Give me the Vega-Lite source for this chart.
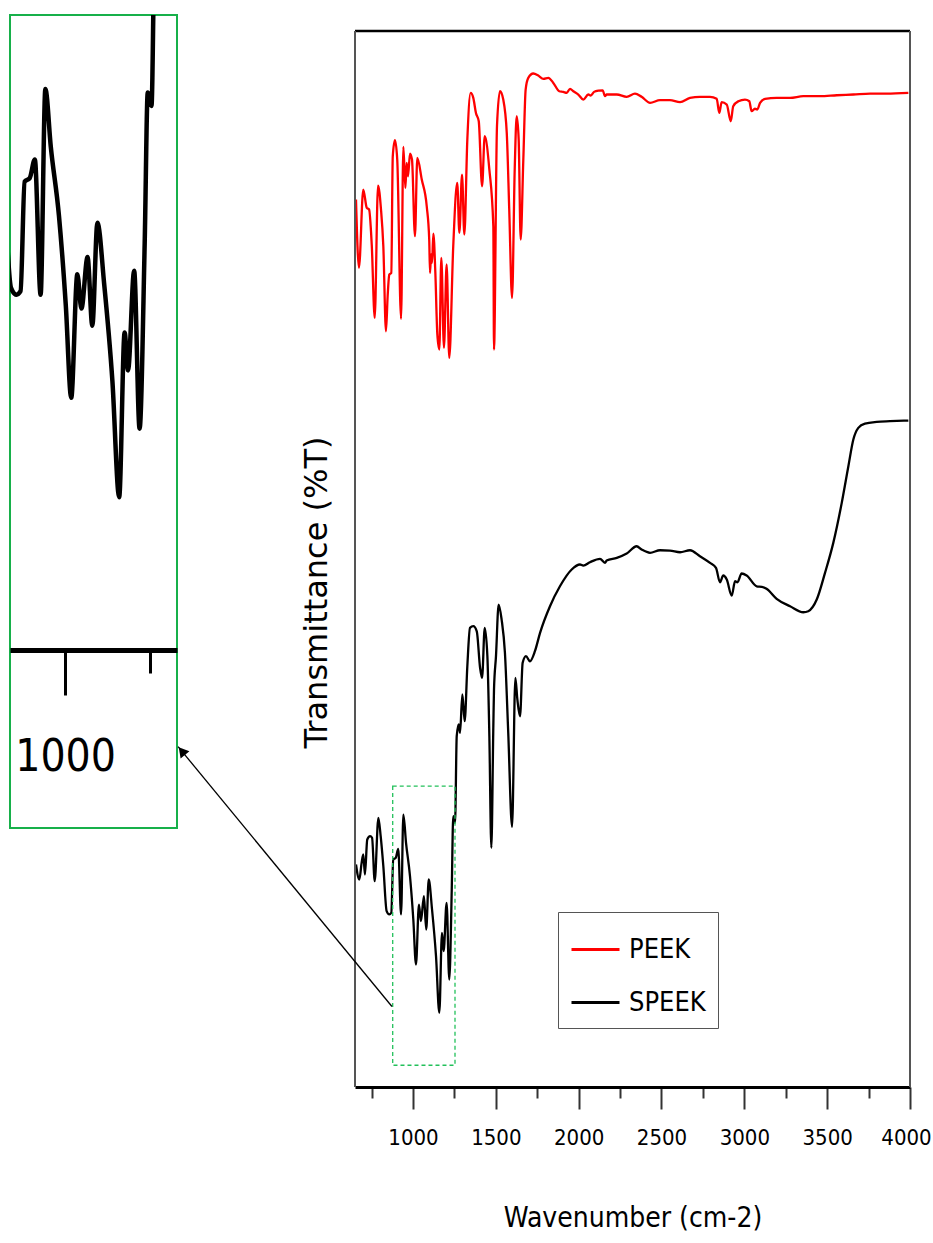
{
  "$schema": "https://vega.github.io/schema/vega-lite/v6.json",
  "background": "white",
  "padding": {"left": 9, "top": 14, "right": 0, "bottom": 0},
  "bounds": "full",
  "spacing": -1,
  "datasets": {
    "spectra": [
      {"sample":"PEEK","wavenumber":656,"transmittance":84.04},
      {"sample":"PEEK","wavenumber":674,"transmittance":77.58},
      {"sample":"PEEK","wavenumber":700,"transmittance":84.99},
      {"sample":"PEEK","wavenumber":721,"transmittance":83.26},
      {"sample":"PEEK","wavenumber":735,"transmittance":83.10},
      {"sample":"PEEK","wavenumber":751,"transmittance":79.78},
      {"sample":"PEEK","wavenumber":769,"transmittance":72.84},
      {"sample":"PEEK","wavenumber":789,"transmittance":85.37},
      {"sample":"PEEK","wavenumber":807,"transmittance":83.10},
      {"sample":"PEEK","wavenumber":821,"transmittance":79.62},
      {"sample":"PEEK","wavenumber":837,"transmittance":71.57},
      {"sample":"PEEK","wavenumber":847,"transmittance":74.89},
      {"sample":"PEEK","wavenumber":857,"transmittance":76.94},
      {"sample":"PEEK","wavenumber":869,"transmittance":77.10},
      {"sample":"PEEK","wavenumber":878,"transmittance":88.14},
      {"sample":"PEEK","wavenumber":891,"transmittance":89.66},
      {"sample":"PEEK","wavenumber":905,"transmittance":87.83},
      {"sample":"PEEK","wavenumber":928,"transmittance":72.75},
      {"sample":"PEEK","wavenumber":942,"transmittance":89.03},
      {"sample":"PEEK","wavenumber":954,"transmittance":85.15},
      {"sample":"PEEK","wavenumber":962,"transmittance":87.52},
      {"sample":"PEEK","wavenumber":970,"transmittance":86.25},
      {"sample":"PEEK","wavenumber":982,"transmittance":88.40},
      {"sample":"PEEK","wavenumber":994,"transmittance":87.83},
      {"sample":"PEEK","wavenumber":1012,"transmittance":80.57},
      {"sample":"PEEK","wavenumber":1026,"transmittance":87.99},
      {"sample":"PEEK","wavenumber":1053,"transmittance":85.94},
      {"sample":"PEEK","wavenumber":1083,"transmittance":83.41},
      {"sample":"PEEK","wavenumber":1098,"transmittance":80.26},
      {"sample":"PEEK","wavenumber":1103,"transmittance":77.10},
      {"sample":"PEEK","wavenumber":1109,"transmittance":78.84},
      {"sample":"PEEK","wavenumber":1115,"transmittance":78.05},
      {"sample":"PEEK","wavenumber":1123,"transmittance":80.82},
      {"sample":"PEEK","wavenumber":1135,"transmittance":77.10},
      {"sample":"PEEK","wavenumber":1147,"transmittance":71.26},
      {"sample":"PEEK","wavenumber":1159,"transmittance":69.84},
      {"sample":"PEEK","wavenumber":1171,"transmittance":78.52},
      {"sample":"PEEK","wavenumber":1187,"transmittance":70.00},
      {"sample":"PEEK","wavenumber":1203,"transmittance":77.89},
      {"sample":"PEEK","wavenumber":1219,"transmittance":69.05},
      {"sample":"PEEK","wavenumber":1243,"transmittance":79.62},
      {"sample":"PEEK","wavenumber":1267,"transmittance":85.62},
      {"sample":"PEEK","wavenumber":1280,"transmittance":80.89},
      {"sample":"PEEK","wavenumber":1296,"transmittance":86.41},
      {"sample":"PEEK","wavenumber":1310,"transmittance":80.73},
      {"sample":"PEEK","wavenumber":1328,"transmittance":89.72},
      {"sample":"PEEK","wavenumber":1348,"transmittance":94.15},
      {"sample":"PEEK","wavenumber":1364,"transmittance":93.67},
      {"sample":"PEEK","wavenumber":1380,"transmittance":92.25},
      {"sample":"PEEK","wavenumber":1397,"transmittance":91.46},
      {"sample":"PEEK","wavenumber":1417,"transmittance":85.30},
      {"sample":"PEEK","wavenumber":1433,"transmittance":90.04},
      {"sample":"PEEK","wavenumber":1461,"transmittance":86.88},
      {"sample":"PEEK","wavenumber":1485,"transmittance":81.52},
      {"sample":"PEEK","wavenumber":1489,"transmittance":69.84},
      {"sample":"PEEK","wavenumber":1507,"transmittance":90.98},
      {"sample":"PEEK","wavenumber":1525,"transmittance":94.30},
      {"sample":"PEEK","wavenumber":1545,"transmittance":93.51},
      {"sample":"PEEK","wavenumber":1566,"transmittance":90.36},
      {"sample":"PEEK","wavenumber":1581,"transmittance":83.10},
      {"sample":"PEEK","wavenumber":1598,"transmittance":74.73},
      {"sample":"PEEK","wavenumber":1614,"transmittance":86.88},
      {"sample":"PEEK","wavenumber":1626,"transmittance":91.93},
      {"sample":"PEEK","wavenumber":1638,"transmittance":89.72},
      {"sample":"PEEK","wavenumber":1650,"transmittance":80.26},
      {"sample":"PEEK","wavenumber":1666,"transmittance":87.83},
      {"sample":"PEEK","wavenumber":1680,"transmittance":94.46},
      {"sample":"PEEK","wavenumber":1696,"transmittance":95.57},
      {"sample":"PEEK","wavenumber":1726,"transmittance":95.98},
      {"sample":"PEEK","wavenumber":1756,"transmittance":95.79},
      {"sample":"PEEK","wavenumber":1787,"transmittance":95.47},
      {"sample":"PEEK","wavenumber":1817,"transmittance":95.57},
      {"sample":"PEEK","wavenumber":1847,"transmittance":95.09},
      {"sample":"PEEK","wavenumber":1883,"transmittance":94.30},
      {"sample":"PEEK","wavenumber":1907,"transmittance":94.24},
      {"sample":"PEEK","wavenumber":1928,"transmittance":94.15},
      {"sample":"PEEK","wavenumber":1948,"transmittance":94.53},
      {"sample":"PEEK","wavenumber":1968,"transmittance":94.30},
      {"sample":"PEEK","wavenumber":1998,"transmittance":93.99},
      {"sample":"PEEK","wavenumber":2028,"transmittance":93.51},
      {"sample":"PEEK","wavenumber":2058,"transmittance":93.99},
      {"sample":"PEEK","wavenumber":2073,"transmittance":93.89},
      {"sample":"PEEK","wavenumber":2093,"transmittance":94.24},
      {"sample":"PEEK","wavenumber":2119,"transmittance":94.36},
      {"sample":"PEEK","wavenumber":2145,"transmittance":94.39},
      {"sample":"PEEK","wavenumber":2159,"transmittance":93.83},
      {"sample":"PEEK","wavenumber":2169,"transmittance":93.99},
      {"sample":"PEEK","wavenumber":2230,"transmittance":93.99},
      {"sample":"PEEK","wavenumber":2290,"transmittance":93.77},
      {"sample":"PEEK","wavenumber":2340,"transmittance":94.08},
      {"sample":"PEEK","wavenumber":2380,"transmittance":93.77},
      {"sample":"PEEK","wavenumber":2431,"transmittance":93.20},
      {"sample":"PEEK","wavenumber":2491,"transmittance":93.45},
      {"sample":"PEEK","wavenumber":2551,"transmittance":93.45},
      {"sample":"PEEK","wavenumber":2612,"transmittance":93.26},
      {"sample":"PEEK","wavenumber":2672,"transmittance":93.67},
      {"sample":"PEEK","wavenumber":2732,"transmittance":93.77},
      {"sample":"PEEK","wavenumber":2793,"transmittance":93.77},
      {"sample":"PEEK","wavenumber":2833,"transmittance":93.58},
      {"sample":"PEEK","wavenumber":2849,"transmittance":92.25},
      {"sample":"PEEK","wavenumber":2863,"transmittance":93.26},
      {"sample":"PEEK","wavenumber":2894,"transmittance":93.04},
      {"sample":"PEEK","wavenumber":2918,"transmittance":91.46},
      {"sample":"PEEK","wavenumber":2933,"transmittance":92.88},
      {"sample":"PEEK","wavenumber":2964,"transmittance":93.35},
      {"sample":"PEEK","wavenumber":3004,"transmittance":93.51},
      {"sample":"PEEK","wavenumber":3030,"transmittance":93.35},
      {"sample":"PEEK","wavenumber":3044,"transmittance":92.41},
      {"sample":"PEEK","wavenumber":3064,"transmittance":92.64},
      {"sample":"PEEK","wavenumber":3078,"transmittance":92.57},
      {"sample":"PEEK","wavenumber":3095,"transmittance":93.20},
      {"sample":"PEEK","wavenumber":3125,"transmittance":93.58},
      {"sample":"PEEK","wavenumber":3195,"transmittance":93.67},
      {"sample":"PEEK","wavenumber":3276,"transmittance":93.67},
      {"sample":"PEEK","wavenumber":3356,"transmittance":93.83},
      {"sample":"PEEK","wavenumber":3457,"transmittance":93.83},
      {"sample":"PEEK","wavenumber":3558,"transmittance":93.92},
      {"sample":"PEEK","wavenumber":3658,"transmittance":93.99},
      {"sample":"PEEK","wavenumber":3759,"transmittance":94.08},
      {"sample":"PEEK","wavenumber":3859,"transmittance":94.08},
      {"sample":"PEEK","wavenumber":3990,"transmittance":94.15},
      {"sample":"SPEEK","wavenumber":656,"transmittance":21.07},
      {"sample":"SPEEK","wavenumber":676,"transmittance":19.65},
      {"sample":"SPEEK","wavenumber":690,"transmittance":21.23},
      {"sample":"SPEEK","wavenumber":700,"transmittance":22.02},
      {"sample":"SPEEK","wavenumber":710,"transmittance":20.12},
      {"sample":"SPEEK","wavenumber":724,"transmittance":23.44},
      {"sample":"SPEEK","wavenumber":741,"transmittance":23.75},
      {"sample":"SPEEK","wavenumber":753,"transmittance":23.60},
      {"sample":"SPEEK","wavenumber":769,"transmittance":19.49},
      {"sample":"SPEEK","wavenumber":791,"transmittance":25.49},
      {"sample":"SPEEK","wavenumber":805,"transmittance":23.75},
      {"sample":"SPEEK","wavenumber":821,"transmittance":20.91},
      {"sample":"SPEEK","wavenumber":841,"transmittance":16.65},
      {"sample":"SPEEK","wavenumber":857,"transmittance":16.34},
      {"sample":"SPEEK","wavenumber":869,"transmittance":16.50},
      {"sample":"SPEEK","wavenumber":881,"transmittance":21.54},
      {"sample":"SPEEK","wavenumber":896,"transmittance":21.70},
      {"sample":"SPEEK","wavenumber":911,"transmittance":22.56},
      {"sample":"SPEEK","wavenumber":928,"transmittance":16.34},
      {"sample":"SPEEK","wavenumber":942,"transmittance":25.80},
      {"sample":"SPEEK","wavenumber":958,"transmittance":23.13},
      {"sample":"SPEEK","wavenumber":982,"transmittance":19.96},
      {"sample":"SPEEK","wavenumber":1002,"transmittance":15.86},
      {"sample":"SPEEK","wavenumber":1018,"transmittance":11.60},
      {"sample":"SPEEK","wavenumber":1036,"transmittance":17.28},
      {"sample":"SPEEK","wavenumber":1048,"transmittance":15.70},
      {"sample":"SPEEK","wavenumber":1066,"transmittance":18.07},
      {"sample":"SPEEK","wavenumber":1080,"transmittance":14.91},
      {"sample":"SPEEK","wavenumber":1095,"transmittance":19.65},
      {"sample":"SPEEK","wavenumber":1115,"transmittance":16.81},
      {"sample":"SPEEK","wavenumber":1139,"transmittance":12.39},
      {"sample":"SPEEK","wavenumber":1159,"transmittance":7.03},
      {"sample":"SPEEK","wavenumber":1175,"transmittance":14.60},
      {"sample":"SPEEK","wavenumber":1185,"transmittance":12.86},
      {"sample":"SPEEK","wavenumber":1203,"transmittance":17.44},
      {"sample":"SPEEK","wavenumber":1219,"transmittance":10.18},
      {"sample":"SPEEK","wavenumber":1234,"transmittance":18.70},
      {"sample":"SPEEK","wavenumber":1243,"transmittance":25.64},
      {"sample":"SPEEK","wavenumber":1254,"transmittance":25.02},
      {"sample":"SPEEK","wavenumber":1264,"transmittance":33.22},
      {"sample":"SPEEK","wavenumber":1276,"transmittance":34.33},
      {"sample":"SPEEK","wavenumber":1284,"transmittance":33.54},
      {"sample":"SPEEK","wavenumber":1298,"transmittance":37.17},
      {"sample":"SPEEK","wavenumber":1312,"transmittance":34.64},
      {"sample":"SPEEK","wavenumber":1328,"transmittance":39.85},
      {"sample":"SPEEK","wavenumber":1344,"transmittance":43.48},
      {"sample":"SPEEK","wavenumber":1364,"transmittance":43.64},
      {"sample":"SPEEK","wavenumber":1385,"transmittance":43.16},
      {"sample":"SPEEK","wavenumber":1405,"transmittance":39.70},
      {"sample":"SPEEK","wavenumber":1417,"transmittance":38.75},
      {"sample":"SPEEK","wavenumber":1433,"transmittance":43.48},
      {"sample":"SPEEK","wavenumber":1449,"transmittance":40.80},
      {"sample":"SPEEK","wavenumber":1461,"transmittance":33.22},
      {"sample":"SPEEK","wavenumber":1473,"transmittance":22.65},
      {"sample":"SPEEK","wavenumber":1485,"transmittance":34.17},
      {"sample":"SPEEK","wavenumber":1489,"transmittance":37.64},
      {"sample":"SPEEK","wavenumber":1501,"transmittance":40.80},
      {"sample":"SPEEK","wavenumber":1517,"transmittance":45.69},
      {"sample":"SPEEK","wavenumber":1535,"transmittance":44.27},
      {"sample":"SPEEK","wavenumber":1555,"transmittance":41.12},
      {"sample":"SPEEK","wavenumber":1575,"transmittance":33.54},
      {"sample":"SPEEK","wavenumber":1598,"transmittance":24.64},
      {"sample":"SPEEK","wavenumber":1618,"transmittance":38.75},
      {"sample":"SPEEK","wavenumber":1630,"transmittance":36.70},
      {"sample":"SPEEK","wavenumber":1646,"transmittance":35.11},
      {"sample":"SPEEK","wavenumber":1662,"transmittance":40.17},
      {"sample":"SPEEK","wavenumber":1682,"transmittance":40.80},
      {"sample":"SPEEK","wavenumber":1706,"transmittance":40.32},
      {"sample":"SPEEK","wavenumber":1736,"transmittance":41.27},
      {"sample":"SPEEK","wavenumber":1767,"transmittance":43.01},
      {"sample":"SPEEK","wavenumber":1827,"transmittance":45.53},
      {"sample":"SPEEK","wavenumber":1887,"transmittance":47.42},
      {"sample":"SPEEK","wavenumber":1958,"transmittance":49.01},
      {"sample":"SPEEK","wavenumber":2008,"transmittance":49.48},
      {"sample":"SPEEK","wavenumber":2028,"transmittance":49.38},
      {"sample":"SPEEK","wavenumber":2068,"transmittance":49.70},
      {"sample":"SPEEK","wavenumber":2129,"transmittance":50.02},
      {"sample":"SPEEK","wavenumber":2159,"transmittance":49.64},
      {"sample":"SPEEK","wavenumber":2169,"transmittance":49.86},
      {"sample":"SPEEK","wavenumber":2230,"transmittance":50.11},
      {"sample":"SPEEK","wavenumber":2290,"transmittance":50.52},
      {"sample":"SPEEK","wavenumber":2350,"transmittance":51.21},
      {"sample":"SPEEK","wavenumber":2380,"transmittance":50.90},
      {"sample":"SPEEK","wavenumber":2431,"transmittance":50.59},
      {"sample":"SPEEK","wavenumber":2491,"transmittance":50.83},
      {"sample":"SPEEK","wavenumber":2551,"transmittance":50.80},
      {"sample":"SPEEK","wavenumber":2612,"transmittance":50.64},
      {"sample":"SPEEK","wavenumber":2672,"transmittance":50.83},
      {"sample":"SPEEK","wavenumber":2732,"transmittance":50.27},
      {"sample":"SPEEK","wavenumber":2793,"transmittance":49.64},
      {"sample":"SPEEK","wavenumber":2829,"transmittance":49.17},
      {"sample":"SPEEK","wavenumber":2853,"transmittance":47.80},
      {"sample":"SPEEK","wavenumber":2873,"transmittance":48.44},
      {"sample":"SPEEK","wavenumber":2894,"transmittance":48.06},
      {"sample":"SPEEK","wavenumber":2924,"transmittance":46.54},
      {"sample":"SPEEK","wavenumber":2944,"transmittance":47.90},
      {"sample":"SPEEK","wavenumber":2958,"transmittance":47.80},
      {"sample":"SPEEK","wavenumber":2984,"transmittance":48.63},
      {"sample":"SPEEK","wavenumber":3014,"transmittance":48.44},
      {"sample":"SPEEK","wavenumber":3075,"transmittance":47.42},
      {"sample":"SPEEK","wavenumber":3105,"transmittance":47.37},
      {"sample":"SPEEK","wavenumber":3134,"transmittance":47.18},
      {"sample":"SPEEK","wavenumber":3195,"transmittance":46.23},
      {"sample":"SPEEK","wavenumber":3276,"transmittance":45.53},
      {"sample":"SPEEK","wavenumber":3356,"transmittance":44.96},
      {"sample":"SPEEK","wavenumber":3386,"transmittance":45.06},
      {"sample":"SPEEK","wavenumber":3437,"transmittance":46.16},
      {"sample":"SPEEK","wavenumber":3487,"transmittance":48.69},
      {"sample":"SPEEK","wavenumber":3537,"transmittance":51.53},
      {"sample":"SPEEK","wavenumber":3588,"transmittance":55.32},
      {"sample":"SPEEK","wavenumber":3628,"transmittance":58.79},
      {"sample":"SPEEK","wavenumber":3658,"transmittance":61.32},
      {"sample":"SPEEK","wavenumber":3688,"transmittance":62.42},
      {"sample":"SPEEK","wavenumber":3728,"transmittance":62.83},
      {"sample":"SPEEK","wavenumber":3799,"transmittance":62.99},
      {"sample":"SPEEK","wavenumber":3879,"transmittance":63.05},
      {"sample":"SPEEK","wavenumber":3990,"transmittance":63.11}
    ]
  },
  "hconcat": [
    {
      "width": 167,
      "height": 813,
      "view": {"stroke": "#17b04a", "strokeWidth": 2},
      "data": {"name": "spectra"},
      "transform": [{"filter": "datum.sample === 'SPEEK'"}],
      "mark": {"type": "line", "clip": true, "strokeWidth": 4.5, "color": "black", "strokeJoin": "round", "interpolate": "monotone"},
      "encoding": {
        "x": {
          "field": "wavenumber", "type": "quantitative",
          "scale": {"domain": [838, 1329], "nice": false, "zero": false},
          "axis": {
            "title": null, "grid": false, "values": [1000, 1250], "format": "d",
            "offset": -178,
            "domainWidth": 5, "domainColor": "black",
            "tickColor": "black", "tickWidth": 3,
            "tickSize": {"condition": {"test": "datum.value === 1000", "value": 45}, "value": 23},
            "labelExpr": "datum.value === 1000 ? '1000' : ''",
            "labelFont": "DejaVu Sans Condensed, sans-serif",
            "labelFontSize": 44, "labelColor": "black",
            "labelPadding": 40, "labelFlush": false, "labelOverlap": false
          }
        },
        "y": {
          "field": "transmittance", "type": "quantitative",
          "scale": {"domain": [-8.18, 29.2], "nice": false, "zero": false},
          "axis": null
        }
      }
    },
    {
      "width": 555,
      "height": 1072,
      "view": {"stroke": null},
      "layer": [
        {
          "data": {"name": "spectra"},
          "mark": {"type": "line", "strokeWidth": 2.3, "clip": true, "strokeJoin": "round", "interpolate": "monotone"},
          "encoding": {
            "x": {
              "field": "wavenumber", "type": "quantitative",
              "scale": {"domain": [650, 4000], "nice": false, "zero": false},
              "axis": {
                "title": "Wavenumber (cm-2)", "grid": false,
                "values": [750, 1000, 1250, 1500, 1750, 2000, 2250, 2500, 2750, 3000, 3250, 3500, 3750, 4000],
                "format": "d",
                "domainWidth": 3, "domainColor": "black",
                "tickColor": "#333333", "tickWidth": 2,
                "tickSize": {"condition": {"test": "datum.value % 500 === 0", "value": 22}, "value": 11},
                "labelExpr": "datum.value % 500 === 0 ? '' + datum.value : ''",
                "labelFont": "DejaVu Sans Condensed, sans-serif",
                "labelFontSize": 22, "labelColor": "black",
                "labelOffset": {"condition": {"test": "datum.value === 4000", "value": -4}, "value": 0},
                "labelPadding": 18, "labelFlush": false, "labelOverlap": false,
                "titleFont": "DejaVu Sans Condensed, sans-serif",
                "titleFontSize": 28, "titleFontWeight": "normal", "titleColor": "black",
                "titlePadding": 56
              }
            },
            "y": {
              "field": "transmittance", "type": "quantitative",
              "scale": {"domain": [0, 101.52], "nice": false, "zero": false},
              "axis": {
                "title": "Transmittance (%T)", "labels": false, "ticks": false, "domain": false, "grid": false,
                "titleFont": "DejaVu Sans", "titleFontSize": 32, "titleFontWeight": "normal",
                "titleColor": "black", "titlePadding": 22, "titleY": 577
              }
            },
            "color": {
              "field": "sample", "type": "nominal",
              "scale": {"domain": ["PEEK", "SPEEK"], "range": ["#ff0000", "#000000"]},
              "legend": {
                "title": null, "orient": "none", "legendX": 548, "legendY": 897,
                "symbolType": "stroke", "symbolSize": 2304, "symbolStrokeWidth": 3,
                "labelFont": "DejaVu Sans Condensed, sans-serif",
                "labelFontSize": 27, "labelColor": "black", "labelOffset": 8, "labelLimit": 0,
                "padding": 12, "rowPadding": 14,
                "strokeColor": "#555555", "fillColor": "white", "cornerRadius": 0
              }
            }
          }
        },
        {
          "data": {"values": [{"edge": "top", "level": 100}]},
          "mark": {"type": "rule", "color": "black", "strokeWidth": 2.5},
          "encoding": {
            "y": {"field": "level", "type": "quantitative"}
          }
        },
        {
          "data": {"values": [{"edge": "left", "wn": 650, "low": 0, "high": 100}, {"edge": "right", "wn": 4000, "low": 0, "high": 100}]},
          "mark": {"type": "rule", "color": "#555555", "strokeWidth": 2},
          "encoding": {
            "x": {"field": "wn", "type": "quantitative"},
            "y": {"field": "low", "type": "quantitative"},
            "y2": {"field": "high"}
          }
        },
        {
          "data": {"values": [{"from_wn": 877.6, "to_wn": 1253.6, "low": 2.06, "high": 28.5}]},
          "mark": {"type": "rect", "fill": null, "fillOpacity": 0, "stroke": "#22c05a", "strokeWidth": 1.3, "strokeDash": [4, 3]},
          "encoding": {
            "x": {"field": "from_wn", "type": "quantitative"},
            "x2": {"field": "to_wn"},
            "y": {"field": "low", "type": "quantitative"},
            "y2": {"field": "high"}
          }
        },
        {
          "data": {"values": [{"from_wn": 873, "from_t": 7.62, "to_wn": -418, "to_t": 32.24}]},
          "mark": {"type": "rule", "clip": false, "color": "black", "strokeWidth": 1.3},
          "encoding": {
            "x": {"field": "from_wn", "type": "quantitative"},
            "x2": {"field": "to_wn"},
            "y": {"field": "from_t", "type": "quantitative"},
            "y2": {"field": "to_t"}
          }
        },
        {
          "data": {"values": [{"tip_wn": -395, "tip_t": 31.81}]},
          "mark": {"type": "point", "shape": "triangle-up", "angle": 320.5, "filled": true, "color": "black", "size": 130, "opacity": 1, "clip": false},
          "encoding": {
            "x": {"field": "tip_wn", "type": "quantitative"},
            "y": {"field": "tip_t", "type": "quantitative"}
          }
        }
      ]
    }
  ]
}
